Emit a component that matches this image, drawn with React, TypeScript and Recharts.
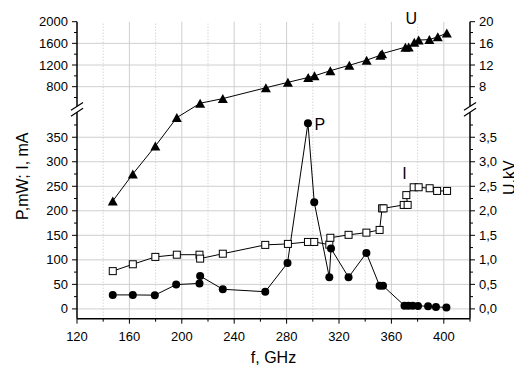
import React from 'react';
import { LineChart, Line, XAxis, YAxis, CartesianGrid, ReferenceLine } from 'recharts';

// P, mW (filled circles)
const freqP = [147.3, 162.6, 179.4, 195.7, 213.5, 214, 231.3, 263.7, 280.7, 296.3, 301.1, 312.6, 313.9, 327.3, 340.9, 351, 353.6, 370, 373, 376.3, 380.3, 388, 394, 402];
const powerP = [28.5, 28.5, 28, 49.5, 52, 67, 40, 35, 93.5, 378.5, 217.5, 64.5, 123, 64.5, 114, 47, 47, 6.5, 6.5, 6.2, 6, 5.5, 4, 3];

// I, mA (open squares)
const freqI = [147.3, 162.6, 179.8, 196.2, 213.5, 214, 231.3, 263.7, 281, 296.3, 301.1, 312.6, 313.4, 327.3, 340.9, 351, 352.9, 354, 369.4, 372.4, 371.4, 377, 380.8, 389.2, 394.9, 402.5];
const currentI = [77, 91, 106, 110.5, 110.5, 102.5, 112.5, 130.5, 132.5, 136.5, 136.5, 131, 145, 151, 155.5, 161, 205, 205, 212, 212, 232, 248, 248, 246, 240.5, 240.5];

// U, kV (filled triangles)
const freqU = [147.3, 162.6, 179.8, 196.2, 214, 231.3, 264.2, 281, 296.5, 301.3, 313.4, 327.9, 341.1, 351.6, 352.9, 370.7, 373.2, 377.5, 380.8, 389, 395.4, 402.3];
const voltageU = [2.2, 2.75, 3.32, 3.9, 4.94, 5.8, 7.8, 8.8, 9.7, 10.0, 10.95, 11.95, 12.9, 13.8, 14.1, 15.3, 15.35, 16.2, 16.6, 16.7, 17.2, 17.9];

const xMajor = [120, 160, 200, 240, 280, 320, 360, 400];
const xMinor = [140, 180, 220, 260, 300, 340, 380, 420];
const leftMajor = [0, 50, 100, 150, 200, 250, 300, 350, 800, 1200, 1600, 2000];
const leftMinor = [25, 75, 125, 175, 225, 275, 325, 375, 600, 1000, 1400, 1800];
const rightMajor = [0, 0.5, 1, 1.5, 2, 2.5, 3, 3.5, 8, 12, 16, 20];
const rightMinor = [0.25, 0.75, 1.25, 1.75, 2.25, 2.75, 3.25, 3.75, 6, 10, 14, 18];

// broken axis: below LOWER_TOP drawn 1:1, above it compressed
const LOWER_TOP = 400;
const UPPER_REF = 800;
const UPPER_REF_V = 453.1;
const UPPER_K = 0.1104;
const toV = (v: number) => (v <= LOWER_TOP ? v : UPPER_REF_V + (v - UPPER_REF) * UPPER_K);
const toVkV = (u: number) => toV(u * 100) / 100;

const BREAK_A = 401;
const BREAK_B = 413;

const FONT = '"Liberation Sans", Arial, sans-serif';

const dataP = freqP.map((f, i) => ({ f, v: powerP[i] }));
const dataI = freqI.map((f, i) => ({ f, v: currentI[i] }));
const dataU = freqU.map((f, i) => ({ f, v: toVkV(voltageU[i]) }));

const leftTicks = [
  ...leftMajor.map((v) => ({ v: toV(v), label: String(v) })),
  ...leftMinor.map((v) => ({ v: toV(v), label: '' })),
];
const rightTicks = [
  ...rightMajor.map((v) => ({ v: toVkV(v), label: v < 5 ? v.toFixed(1).replace('.', ',') : String(v) })),
  ...rightMinor.map((v) => ({ v: toVkV(v), label: '' })),
];
const xTicks = [
  ...xMajor.map((v) => ({ v, label: String(v) })),
  ...xMinor.map((v) => ({ v, label: '' })),
];

const findLabel = (list: { v: number; label: string }[], value: number) => {
  const t = list.find((d) => Math.abs(d.v - value) < 1e-6);
  return t ? t.label : '';
};

const LeftTick = (props: any) => {
  const { x, y, payload } = props;
  const label = findLabel(leftTicks, payload.value);
  return (
    <g>
      <line x1={x} x2={x - (label ? 5 : 3)} y1={y} y2={y} stroke="#000" />
      {label && (
        <text x={x - 9} y={y} dy={4.6} textAnchor="end" fontSize={13} fontFamily={FONT} fill="#000">
          {label}
        </text>
      )}
    </g>
  );
};

const RightTick = (props: any) => {
  const { x, y, payload } = props;
  const label = findLabel(rightTicks, payload.value);
  return (
    <g>
      <line x1={x} x2={x + (label ? 5 : 3)} y1={y} y2={y} stroke="#000" />
      {label && (
        <text x={x + 9} y={y} dy={4.6} textAnchor="start" fontSize={13} fontFamily={FONT} fill="#000">
          {label}
        </text>
      )}
    </g>
  );
};

const BottomTick = (props: any) => {
  const { x, y, payload } = props;
  const label = findLabel(xTicks, payload.value);
  return (
    <g>
      <line x1={x} x2={x} y1={y} y2={y + (label ? 5 : 3)} stroke="#000" />
      {label && (
        <text x={x} y={y + 22} textAnchor="middle" fontSize={13} fontFamily={FONT} fill="#000">
          {label}
        </text>
      )}
    </g>
  );
};

const circleDot = (p: any) => <circle key={p.index} cx={p.cx} cy={p.cy} r={4} fill="#000" />;
const squareDot = (p: any) => (
  <rect key={p.index} x={p.cx - 3.5} y={p.cy - 3.5} width={7} height={7} fill="#fff" stroke="#000" strokeWidth={1} />
);
const triangleDot = (p: any) => (
  <polygon
    key={p.index}
    points={`${p.cx},${p.cy - 4.5} ${p.cx - 5},${p.cy + 4.5} ${p.cx + 5},${p.cy + 4.5}`}
    fill="#000"
  />
);

const seriesTag = (text: string, at: number, dx: number, dy: number, anchor: string) => (p: any) => {
  if (p.index !== at) return null;
  const x = p.x ?? p.viewBox?.x;
  const y = p.y ?? p.viewBox?.y;
  return (
    <text key="tag" x={x + dx} y={y + dy} textAnchor={anchor} fontSize={16} fontFamily={FONT} fill="#000">
      {text}
    </text>
  );
};

const axisTitle = (text: string, dx: number, dy: number, angle: number) => (p: any) => {
  const vb = p.viewBox;
  const cx = vb.x + dx;
  const cy = vb.y + dy;
  return (
    <text
      x={cx}
      y={cy}
      textAnchor="middle"
      dominantBaseline="central"
      transform={angle ? `rotate(${angle} ${cx} ${cy})` : undefined}
      fontSize={16}
      fontFamily={FONT}
      fill="#000"
    >
      {text}
    </text>
  );
};

const axisStroke = { stroke: '#000', strokeWidth: 1.5 };

export default function App() {
  const yTop = toV(2000);
  return (
    <div style={{ width: 514, height: 359 }}>
      <LineChart width={514} height={359} margin={{ top: 13.7, right: 0, bottom: 0, left: 0 }}>
        <CartesianGrid
          stroke="#cfcfcf"
          xAxisId="x"
          yAxisId="left"
          horizontalValues={[0, 50, 100, 150, 200, 250, 300, 350, 800, 1200, 1600].map(toV)}
          verticalValues={xMajor.slice(1)}
        />
        {xMinor.slice(0, -1).map((f) => (
          <ReferenceLine key={`m${f}`} xAxisId="x" yAxisId="left" x={f} stroke="#c4c4c4" strokeDasharray="1 2" />
        ))}
        <XAxis
          xAxisId="x"
          dataKey="f"
          type="number"
          domain={[120, 420]}
          allowDataOverflow
          ticks={xTicks.map((t) => t.v)}
          interval={0}
          tickSize={0}
          tickMargin={0}
          tick={BottomTick}
          axisLine={axisStroke}
          height={48.3}
          label={{ content: axisTitle('f, GHz', 196.5, 38.5, 0) }}
        />
        <YAxis
          yAxisId="left"
          type="number"
          domain={[-20, yTop]}
          allowDataOverflow
          ticks={leftTicks.map((t) => t.v)}
          interval={0}
          tickSize={0}
          tickMargin={0}
          tick={LeftTick}
          axisLine={false}
          width={69}
          label={{ content: axisTitle('P,mW; I, mA', 15, 154.5, -90) }}
        />
        <YAxis
          yAxisId="right"
          orientation="right"
          type="number"
          domain={[-0.2, yTop / 100]}
          allowDataOverflow
          ticks={rightTicks.map((t) => t.v)}
          interval={0}
          tickSize={0}
          tickMargin={0}
          tick={RightTick}
          axisLine={false}
          width={52}
          label={{ content: axisTitle('U,kV', 40, 156, -90) }}
        />

        {/* axis lines with the break marks */}
        {[120, 420].map((ax) => [
          <ReferenceLine key={`lo${ax}`} xAxisId="x" yAxisId="left" ifOverflow="visible" segment={[{ x: ax, y: -20 }, { x: ax, y: BREAK_A }]} {...axisStroke} />,
          <ReferenceLine key={`hi${ax}`} xAxisId="x" yAxisId="left" ifOverflow="visible" segment={[{ x: ax, y: BREAK_B }, { x: ax, y: yTop }]} {...axisStroke} />,
          <ReferenceLine key={`ba${ax}`} xAxisId="x" yAxisId="left" ifOverflow="visible" segment={[{ x: ax - 4.6, y: BREAK_A - 8 }, { x: ax + 4.6, y: BREAK_A + 8 }]} stroke="#000" strokeWidth={1.2} />,
          <ReferenceLine key={`bb${ax}`} xAxisId="x" yAxisId="left" ifOverflow="visible" segment={[{ x: ax - 4.6, y: BREAK_B - 8 }, { x: ax + 4.6, y: BREAK_B + 8 }]} stroke="#000" strokeWidth={1.2} />,
        ])}

        <Line
          xAxisId="x"
          yAxisId="left"
          data={dataI}
          dataKey="v"
          stroke="#000"
          strokeWidth={1}
          dot={squareDot}
          activeDot={false}
          isAnimationActive={false}
          label={seriesTag('I', 18, 0.7, -26, 'middle')}
        />
        <Line
          xAxisId="x"
          yAxisId="left"
          data={dataP}
          dataKey="v"
          stroke="#000"
          strokeWidth={1}
          dot={circleDot}
          activeDot={false}
          isAnimationActive={false}
          label={seriesTag('P', 9, 6.5, 6.7, 'start')}
        />
        <Line
          xAxisId="x"
          yAxisId="right"
          data={dataU}
          dataKey="v"
          stroke="#000"
          strokeWidth={1}
          dot={triangleDot}
          activeDot={false}
          isAnimationActive={false}
          label={seriesTag('U', 16, -3.3, -23, 'start')}
        />
      </LineChart>
    </div>
  );
}
